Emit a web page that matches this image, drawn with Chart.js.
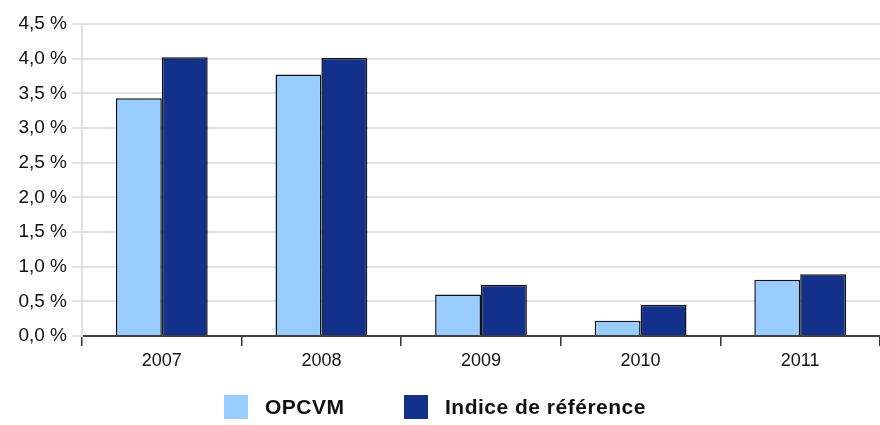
<!DOCTYPE html>
<html>
<head>
<meta charset="utf-8">
<script src="https://cdn.jsdelivr.net/npm/chart.js@4"></script>
<style>
  html, body { margin: 0; padding: 0; background: #fff; overflow: hidden; }
  #wrap { position: relative; width: 880px; height: 425px; }
  .legend { position: absolute; top: 395px; height: 24px; display: flex; align-items: center;
            font: bold 21px "Liberation Sans", Arial, sans-serif; color: #111; white-space: nowrap;
            letter-spacing: 0.5px; }
  .legend .box { width: 24px; height: 24px; margin-right: 17px; }
</style>
</head>
<body>
<div id="wrap">
  <canvas id="chart"></canvas>
  <div id="legend"></div>
</div>
<script>
// Données
const years = ["2007", "2008", "2009", "2010", "2011"];
const opcvm = [3.43, 3.77, 0.60, 0.22, 0.81];
const indice = [4.02, 4.01, 0.74, 0.45, 0.89];

const seriesNames = ["OPCVM", "Indice de référence"];
const seriesColors = ["#99ccff", "#13318a"];

const ctx = document.getElementById("chart").getContext("2d");

new Chart(ctx, {
    type: "bar",
    data: {
        labels: years,
        datasets: [
            {
                label: seriesNames[0],
                data: opcvm,
                backgroundColor: seriesColors[0],
                borderColor: "#111",
                borderWidth: 1.5,
            },
            {
                label: seriesNames[1],
                data: indice,
                backgroundColor: seriesColors[1],
                borderColor: "#111",
                borderWidth: 1.5,
            },
        ],
    },
    options: {
        responsive: true,
        maintainAspectRatio: false,
        animation: false,
        datasets: {
            bar: { categoryPercentage: 0.575, barPercentage: 1 },
        },
        layout: { padding: { top: 24, right: 0, left: 0, bottom: 0 } },
        plugins: {
            tooltip: { enabled: false },
            legend: { display: false },
        },
        scales: {
            x: {
                afterFit: (scale) => { scale.height = 89; },
                grid: {
                    offset: true,
                    drawOnChartArea: false,
                    tickLength: 10,
                    color: "#333",
                    lineWidth: 1.5,
                },
                border: { color: "#404040", width: 2 },
                ticks: {
                    color: "#111",
                    padding: 4,
                    font: { family: "Liberation Sans", size: 18 },
                },
            },
            y: {
                min: 0,
                max: 4.5,
                afterFit: (scale) => { scale.width = 82; },
                grid: { color: "#e0e0e0", lineWidth: 2, tickLength: 10 },
                border: { color: "#e0e0e0", width: 2 },
                ticks: {
                    stepSize: 0.5,
                    color: "#111",
                    padding: 5,
                    font: { family: "Liberation Sans", size: 19 },
                    callback: (v) => v.toFixed(1).replace(".", ",") + " %",
                },
            },
        },
    },
});

// Légende en bas
const legendLeft = [224, 404];
const legend = document.getElementById("legend");
seriesNames.forEach((name, i) => {
    const item = document.createElement("div");
    item.className = "legend";
    item.style.left = legendLeft[i] + "px";
    item.innerHTML = '<span class="box" style="background:' + seriesColors[i] + '"></span>' + name;
    legend.appendChild(item);
});
</script>
</body>
</html>
